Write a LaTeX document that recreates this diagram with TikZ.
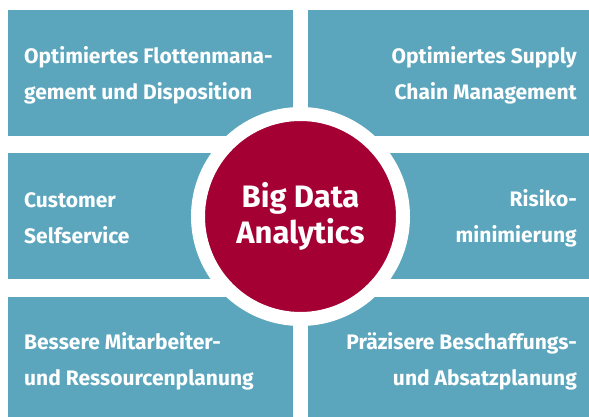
\documentclass[tikz,border=0pt]{standalone}
\usepackage{fontspec}
\setmainfont{Fira Sans}
\usepackage{tikz}
\usetikzlibrary{positioning}
\definecolor{feldblau}{HTML}{5BA6BD}
\definecolor{bdarot}{HTML}{A50034}

\begin{document}
\begin{tikzpicture}[x=1pt,y=1pt]
\tikzstyle{feld}=[fill=feldblau, draw=none]
\tikzstyle{txtl}=[anchor=west, align=left, text=white, inner sep=0pt, font=\fontsize{21}{36}\selectfont\bfseries]
\tikzstyle{txtr}=[anchor=east, align=right, text=white, inner sep=0pt, font=\fontsize{21}{36}\selectfont\bfseries]

\useasboundingbox (0,0) rectangle (589,417);

% felder links
\fill[feld] (8,281) rectangle (293,407);
\fill[feld] (8,138) rectangle (293,264);
\fill[feld] (8,0) rectangle (293,120);

% felder rechts
\fill[feld] (308,281) rectangle (589,407);
\fill[feld] (308,138) rectangle (589,264);
\fill[feld] (308,0) rectangle (589,120);

\node[txtl] (ffm) at (24,342) {Optimiertes Flottenmana-\\gement und Disposition};
\node[txtl] (cs) at (24,199) {Customer\\Selfservice};
\node[txtl] (mrp) at (24,56) {Bessere Mitarbeiter-\\und Ressourcenplanung};

\node[txtr] (scm) at (577,342) {Optimiertes Supply\\Chain Management};
\node[txtr] (rm) at (577,199) {Risiko-\\minimierung};
\node[txtr] (bap) at (577,56) {Präzisere Beschaffungs-\\und Absatzplanung};

% kreis in der mitte
\node[circle, fill=bdarot, draw=white, line width=14pt, minimum size=205pt, inner sep=0pt,
      text=white, align=center, font=\fontsize{31}{36}\selectfont\bfseries] (bda) at (300.5,200.5) {Big Data\\Analytics};

\end{tikzpicture}
\end{document}
